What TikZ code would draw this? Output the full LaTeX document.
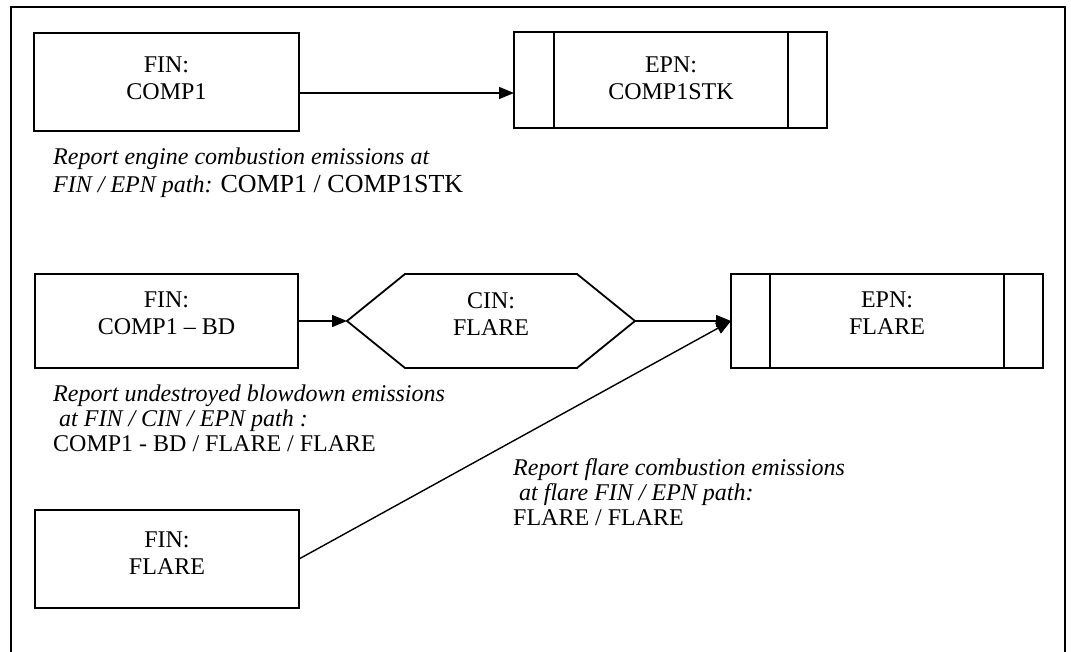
\documentclass[tikz,border=0pt]{standalone}
\usepackage{fontspec}
\setmainfont{Liberation Serif}
\usetikzlibrary{arrows.meta}
\begin{document}
\begin{tikzpicture}[x=1pt,y=-1pt,
  frame/.style={line width=2pt},
  box/.style={draw, line width=1.8pt, inner sep=0pt, outer sep=0pt},
  lbl/.style={font=\fontsize{24}{27}\selectfont, align=center, inner sep=0pt, anchor=north},
  captxt/.style={font=\fontsize{24}{25}\selectfont, align=left, inner sep=0pt, anchor=north west},
  arr/.style={line width=1.4pt, -{Triangle[length=15pt,width=12pt]}}]
\useasboundingbox (0,0) rectangle (1071,652);
% outer frame
\draw[frame] (11,670) -- (11,7) -- (1065,7) -- (1065,670);
% top row
\node[box, minimum width=265pt, minimum height=98pt] (fin1) at (166.5,82) {};
\node[lbl] (fin1t) at (166.5,57) {FIN:\\COMP1};
\node[box, minimum width=313pt, minimum height=96pt] (epn1) at (670.5,80) {};
\draw[box] ([xshift=40pt]epn1.north west) -- ([xshift=40pt]epn1.south west);
\draw[box] ([xshift=-39pt]epn1.north east) -- ([xshift=-39pt]epn1.south east);
\node[lbl] (epn1t) at (671,57) {EPN:\\COMP1STK};
\coordinate (a1) at ([yshift=-11pt]fin1.east);
\draw[arr] (a1) -- (a1 -| epn1.west);
\node[captxt, font=\fontsize{24}{27.6}\selectfont] (cap1) at (53,148) {\textit{Report engine combustion emissions at}\\\textit{FIN / EPN path:} {\fontsize{26}{27.6}\selectfont COMP1 / COMP1STK}};
% middle row
\node[box, minimum width=263pt, minimum height=94pt] (fin2) at (166.5,321) {};
\node[lbl] (fin2t) at (166.5,292) {FIN:\\COMP1 -- BD};
\coordinate (cinL) at (347,321);
\coordinate (cinR) at (635,321);
\draw[box, line join=miter] (cinL) -- (405,274) -- (577,274) -- (cinR) -- (577,368) -- (405,368) -- cycle;
\node[lbl] (cint) at (491,292) {CIN:\\FLARE};
\node[box, minimum width=312pt, minimum height=94pt] (epn2) at (887,321) {};
\draw[box] ([xshift=39pt]epn2.north west) -- ([xshift=39pt]epn2.south west);
\draw[box] ([xshift=-39pt]epn2.north east) -- ([xshift=-39pt]epn2.south east);
\node[lbl] (epn2t) at (887,292) {EPN:\\FLARE};
\draw[arr] (fin2.east) -- (cinL);
\draw[arr] (cinR) -- (epn2.west);
\node[captxt] (cap2) at (53,385) {\textit{Report undestroyed blowdown emissions}\\\textit{\ at FIN / CIN / EPN path :}\\COMP1 - BD / FLARE / FLARE};
% bottom
\node[box, minimum width=264pt, minimum height=98pt] (fin3) at (167,559) {};
\node[lbl] (fin3t) at (167,532) {FIN:\\FLARE};
\draw[arr] (fin3.east) -- (epn2.west);
\node[captxt] (cap3) at (513,458) {\textit{Report flare combustion emissions}\\\textit{\ at flare FIN / EPN path:}\\FLARE / FLARE};
\end{tikzpicture}
\end{document}
